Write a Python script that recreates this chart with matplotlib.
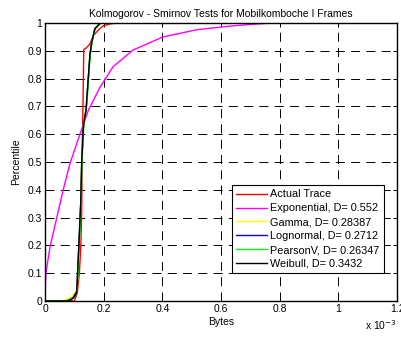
import matplotlib
matplotlib.use("Agg")
import matplotlib.pyplot as plt
import numpy as np

# x values in units of 1e-3 bytes, y values are percentiles
trace_x = [0.0, 0.10, 0.11, 0.117, 0.122, 0.125, 0.126, 0.128, 0.130, 0.132, 0.14, 0.153, 0.165, 0.182, 0.198, 0.222, 0.245, 1.2]
trace_y = [0.0, 0.0, 0.03, 0.10, 0.20, 0.32, 0.47, 0.62, 0.75, 0.905, 0.91, 0.925, 0.955, 0.975, 0.99, 0.997, 1.0, 1.0]

expo_x = [0.0, 0.003, 0.017, 0.04, 0.062, 0.085, 0.119, 0.148, 0.188, 0.232, 0.30, 0.402, 0.517, 0.63, 0.70, 0.774]
expo_y = [0.03, 0.10, 0.195, 0.30, 0.40, 0.495, 0.60, 0.687, 0.77, 0.843, 0.903, 0.95, 0.976, 0.989, 0.995, 1.0]

gamma_x = [0.0, 0.05, 0.07, 0.09, 0.108, 0.112, 0.117, 0.122, 0.125, 0.131, 0.14, 0.148, 0.153, 0.159, 0.17, 0.186, 1.2]
gamma_y = [0.0, 0.0, 0.005, 0.015, 0.04, 0.10, 0.24, 0.36, 0.50, 0.63, 0.69, 0.81, 0.885, 0.93, 0.98, 1.0, 1.0]

logn_x = [0.0, 0.065, 0.08, 0.095, 0.108, 0.111, 0.117, 0.122, 0.125, 0.131, 0.14, 0.148, 0.153, 0.159, 0.17, 0.19, 1.2]
logn_y = [0.0, 0.0, 0.003, 0.012, 0.035, 0.10, 0.24, 0.36, 0.50, 0.63, 0.69, 0.81, 0.885, 0.93, 0.98, 1.0, 1.0]

pearson_x = [0.0, 0.07, 0.085, 0.098, 0.109, 0.112, 0.118, 0.123, 0.126, 0.132, 0.141, 0.149, 0.154, 0.160, 0.171, 0.19, 1.2]
pearson_y = [0.0, 0.0, 0.004, 0.012, 0.03, 0.10, 0.24, 0.36, 0.50, 0.63, 0.69, 0.81, 0.885, 0.93, 0.98, 1.0, 1.0]

weibull_x = [0.0, 0.075, 0.09, 0.100, 0.108, 0.111, 0.117, 0.122, 0.125, 0.131, 0.14, 0.148, 0.153, 0.159, 0.17, 0.188, 1.2]
weibull_y = [0.0, 0.0, 0.005, 0.015, 0.03, 0.10, 0.24, 0.36, 0.50, 0.63, 0.69, 0.81, 0.885, 0.93, 0.98, 1.0, 1.0]

labels = [
    "Actual Trace",
    "Exponential, D= 0.552",
    "Gamma, D= 0.28387",
    "Lognormal, D= 0.2712",
    "PearsonV, D= 0.26347",
    "Weibull, D= 0.3432",
]
colors = ["#ff0000", "#ff00ff", "#ffff00", "#0000ff", "#00ff00", "#000000"]

x_ticks = [0, 0.2, 0.4, 0.6, 0.8, 1.0, 1.2]
y_ticks = [0, 0.1, 0.2, 0.3, 0.4, 0.5, 0.6, 0.7, 0.8, 0.9, 1.0]

plt.rcParams["font.family"] = "Liberation Sans"
plt.rcParams["lines.scale_dashes"] = False

fig = plt.figure(figsize=(4.02, 3.39), dpi=100)
ax = fig.add_axes([0.112, 0.112, 0.876, 0.82])

series = [
    (trace_x, trace_y),
    (expo_x, expo_y),
    (gamma_x, gamma_y),
    (logn_x, logn_y),
    (pearson_x, pearson_y),
    (weibull_x, weibull_y),
]
for (xs, ys), label, color in zip(series, labels, colors):
    ax.plot(xs, ys, color=color, linewidth=1.0, label=label)

ax.set_xlim(0, 1.2)
ax.set_ylim(0, 1)
ax.set_xticks(x_ticks)
ax.set_yticks(y_ticks)
ax.set_xticklabels([f"{t:g}" for t in x_ticks], fontsize=7.5)
ax.set_yticklabels([f"{t:g}" for t in y_ticks], fontsize=7.5)
ax.tick_params(direction="in", top=True, right=True, length=3, width=0.7, pad=2)
ax.grid(True, color="black", linestyle=(0, (6.5, 4.5)), linewidth=0.7)
for spine in ax.spines.values():
    spine.set_linewidth(1.0)

ax.set_xlabel("Bytes", fontsize=7.5, labelpad=2)
ax.set_ylabel("Percentile", fontsize=7.5, labelpad=5)
ax.set_title("Kolmogorov - Smirnov Tests for Mobilkomboche I Frames", fontsize=7.5, pad=4)
ax.text(1.0, -0.062, r"x 10$^{-3}$", transform=ax.transAxes, ha="right", va="top", fontsize=7.5)

leg = ax.legend(loc="upper left", bbox_to_anchor=(0.531, 0.417), fontsize=7.8,
                frameon=True, fancybox=False, edgecolor="black", framealpha=1,
                handlelength=2.8, handletextpad=0.35, labelspacing=0.36,
                borderpad=0.4, borderaxespad=0)
leg.get_frame().set_linewidth(0.8)

fig.savefig("out.png", dpi=100, facecolor="white")
